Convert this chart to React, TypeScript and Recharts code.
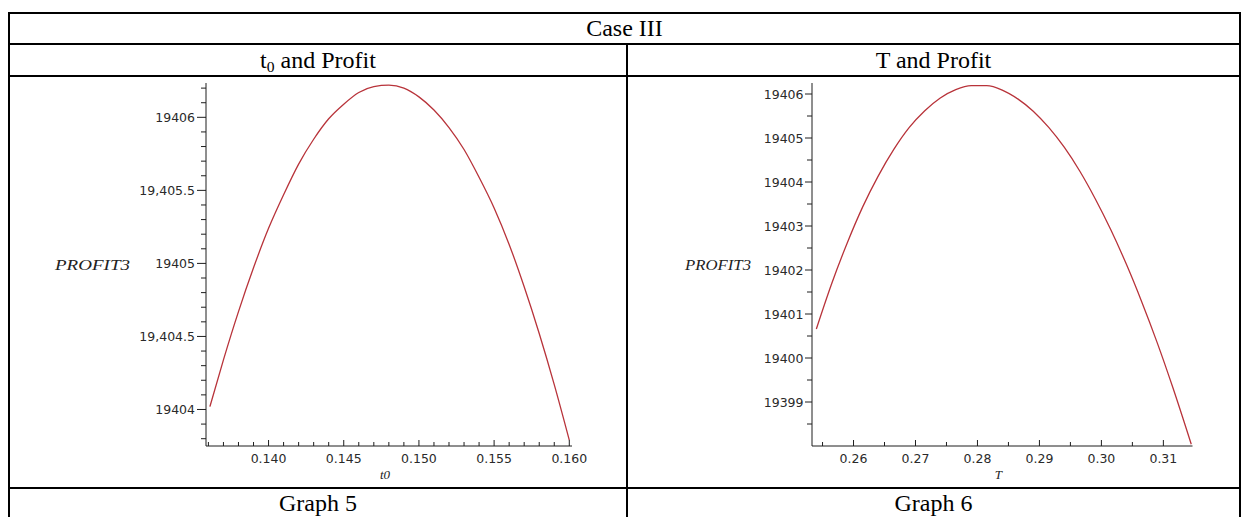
import React from 'react';
import { LineChart, Line, XAxis, YAxis, Label } from 'recharts';

// ---- Graph 5 : t0 and Profit ----
const t0Values = [0.1361, 0.137, 0.138, 0.139, 0.140, 0.141, 0.142, 0.143, 0.144, 0.145, 0.146, 0.147, 0.148, 0.149, 0.150, 0.151, 0.152, 0.153, 0.154, 0.155, 0.156, 0.157, 0.158, 0.159, 0.160];
const profitByT0 = [19404.02, 19404.34, 19404.67, 19404.97, 19405.24, 19405.47, 19405.68, 19405.85, 19405.99, 19406.09, 19406.17, 19406.21, 19406.22, 19406.20, 19406.14, 19406.05, 19405.93, 19405.78, 19405.59, 19405.38, 19405.13, 19404.84, 19404.52, 19404.17, 19403.79];
const leftXDomain = [0.13584, 0.16018];
const leftYDomain = [19403.75, 19406.235];
const leftXMajor = [0.140, 0.145, 0.150, 0.155, 0.160];
const leftXLabels = ['0.140', '0.145', '0.150', '0.155', '0.160'];
const leftXMinor = [0.136, 0.137, 0.138, 0.139, 0.141, 0.142, 0.143, 0.144, 0.146, 0.147, 0.148, 0.149, 0.151, 0.152, 0.153, 0.154, 0.156, 0.157, 0.158, 0.159];
const leftYMajor = [19404, 19404.5, 19405, 19405.5, 19406];
const leftYLabels = ['19404', '19,404.5', '19405', '19,405.5', '19406'];
const leftYMinor = [19403.8, 19403.9, 19404.1, 19404.2, 19404.3, 19404.4, 19404.6, 19404.7, 19404.8, 19404.9, 19405.1, 19405.2, 19405.3, 19405.4, 19405.6, 19405.7, 19405.8, 19405.9, 19406.1, 19406.2];

// ---- Graph 6 : T and Profit ----
const tValues = [0.2540, 0.2565, 0.2590, 0.2615, 0.2640, 0.2665, 0.2690, 0.2715, 0.2740, 0.2765, 0.2790, 0.2815, 0.2840, 0.2865, 0.2890, 0.2915, 0.2940, 0.2965, 0.2990, 0.3015, 0.3040, 0.3065, 0.3090, 0.3115, 0.3145];
const profitByT = [19400.66, 19401.70, 19402.62, 19403.44, 19404.14, 19404.74, 19405.24, 19405.62, 19405.91, 19406.10, 19406.19, 19406.19, 19406.09, 19405.89, 19405.61, 19405.24, 19404.79, 19404.25, 19403.62, 19402.92, 19402.14, 19401.28, 19400.35, 19399.34, 19398.04];
const rightXDomain = [0.2533, 0.3147];
const rightYDomain = [19398.0, 19406.25];
const rightXMajor = [0.26, 0.27, 0.28, 0.29, 0.30, 0.31];
const rightXLabels = ['0.26', '0.27', '0.28', '0.29', '0.30', '0.31'];
const rightXMinor = [0.255, 0.265, 0.275, 0.285, 0.295, 0.305];
const rightYMajor = [19399, 19400, 19401, 19402, 19403, 19404, 19405, 19406];
const rightYLabels = ['19399', '19400', '19401', '19402', '19403', '19404', '19405', '19406'];
const rightYMinor = [19398.5, 19399.5, 19400.5, 19401.5, 19402.5, 19403.5, 19404.5, 19405.5];

const headerTitle = 'Case III';
const yAxisTitle = 'PROFIT3';
const graphCaptions = ['Graph 5', 'Graph 6'];

const AXIS = '#1e1e1e';
const CURVE = '#b8333a';
const TICKFONT = '"DejaVu Sans", sans-serif';
const SERIF = '"Liberation Serif", "Times New Roman", serif';

const findIdx = (arr: number[], v: number) => arr.findIndex((m) => Math.abs(m - v) < 1e-9);

const makeXTick = (majors: number[], labels: string[]) => (props: any) => {
  const { x, y, payload } = props;
  const idx = findIdx(majors, payload.value);
  const major = idx >= 0;
  return (
    <g>
      <line x1={x} x2={x} y1={y} y2={y - (major ? 6 : 4)} stroke={AXIS} strokeWidth={1} />
      {major && (
        <text x={x} y={y + 17} textAnchor="middle" fontFamily={TICKFONT} fontSize={12.5} fill="#2a2a2a">
          {labels[idx]}
        </text>
      )}
    </g>
  );
};

const makeYTick = (majors: number[], labels: string[], majorLen: number, gap: number) => (props: any) => {
  const { x, y, payload } = props;
  const idx = findIdx(majors, payload.value);
  const major = idx >= 0;
  return (
    <g>
      <line x1={x - (major ? majorLen : 5)} x2={x} y1={y} y2={y} stroke={AXIS} strokeWidth={1} />
      {major && (
        <text x={x - gap} y={y + 4.5} textAnchor="end" fontFamily={TICKFONT} fontSize={12.5} fill="#2a2a2a">
          {labels[idx]}
        </text>
      )}
    </g>
  );
};

type PanelProps = {
  left: number;
  xs: number[];
  ys: number[];
  xDomain: number[];
  yDomain: number[];
  xMajor: number[];
  xLabels: string[];
  xMinor: number[];
  yMajor: number[];
  yLabels: string[];
  yMinor: number[];
  yAxisWidth: number;
  marginRight: number;
  majorLen: number;
  gap: number;
  xTitle: string;
  yTitleX: number;
  yTitleLen: number;
  yTitleSize: number;
};

function Panel(p: PanelProps) {
  const data = p.xs.map((x, i) => ({ x, v: p.ys[i] }));
  return (
    <div style={{ position: 'absolute', left: p.left, top: 70 }}>
      <LineChart width={565} height={430} data={data} margin={{ top: 13, right: p.marginRight, bottom: 14, left: 0 }}>
        <XAxis
          dataKey="x"
          type="number"
          domain={p.xDomain}
          allowDataOverflow
          ticks={[...p.xMajor, ...p.xMinor]}
          interval={0}
          tickSize={0}
          tickMargin={0}
          tickLine={false}
          axisLine={{ stroke: AXIS }}
          tick={makeXTick(p.xMajor, p.xLabels)}
          height={40}
        >
          <Label
            content={(lp: any) => {
              const vb = lp.viewBox || {};
              return (
                <text
                  x={vb.x + vb.width / 2 - 4}
                  y={vb.y + 33}
                  textAnchor="middle"
                  fontFamily={SERIF}
                  fontStyle="italic"
                  fontSize={13}
                  fill="#222"
                >
                  {p.xTitle}
                </text>
              );
            }}
          />
        </XAxis>
        <XAxis xAxisId="frameTop" orientation="top" type="number" domain={p.xDomain} allowDataOverflow height={0} tick={false} tickLine={false} axisLine={{ stroke: AXIS }} />
        <YAxis
          type="number"
          domain={p.yDomain}
          allowDataOverflow
          ticks={[...p.yMajor, ...p.yMinor]}
          interval={0}
          tickSize={0}
          tickMargin={0}
          tickLine={false}
          axisLine={{ stroke: AXIS }}
          tick={makeYTick(p.yMajor, p.yLabels, p.majorLen, p.gap)}
          width={p.yAxisWidth}
        >
          <Label
            content={(lp: any) => {
              const vb = lp.viewBox || {};
              return (
                <text
                  x={vb.x + p.yTitleX}
                  y={vb.y + vb.height / 2 + 5}
                  fontFamily={SERIF}
                  fontStyle="italic"
                  fontSize={p.yTitleSize}
                  textLength={p.yTitleLen}
                  lengthAdjust="spacingAndGlyphs"
                  fill="#222"
                >
                  {yAxisTitle}
                </text>
              );
            }}
          />
        </YAxis>
        <YAxis yAxisId="frameRight" orientation="right" type="number" domain={p.yDomain} allowDataOverflow width={0} tick={false} tickLine={false} axisLine={{ stroke: AXIS }} />
        <Line type="monotone" dataKey="v" stroke={CURVE} strokeWidth={1.3} dot={false} isAnimationActive={false} />
      </LineChart>
    </div>
  );
}

const hLine = (top: number, left: number, width: number) => (
  <div style={{ position: 'absolute', top, left, width, height: 2, background: '#000' }} />
);
const vLine = (left: number, top: number, height: number) => (
  <div style={{ position: 'absolute', top, left, width: 2, height, background: '#000' }} />
);

const textCell = (left: number, width: number, top: number, height: number, content: React.ReactNode) => (
  <div
    style={{
      position: 'absolute',
      left,
      width,
      top,
      height,
      lineHeight: `${height}px`,
      textAlign: 'center',
      fontFamily: SERIF,
      fontSize: 24,
      color: '#000',
      whiteSpace: 'nowrap',
    }}
  >
    {content}
  </div>
);

export default function App() {
  return (
    <div style={{ position: 'absolute', left: 0, top: 0, width: 1242, height: 517, background: '#fff', overflow: 'hidden' }}>
      {hLine(12, 8, 1233)}
      {hLine(43, 8, 1233)}
      {hLine(75, 8, 1233)}
      {hLine(487, 8, 1233)}
      {vLine(8, 12, 505)}
      {vLine(1239, 12, 505)}
      {vLine(626, 43, 474)}
      {textCell(10, 1229, 14, 29, headerTitle)}
      {textCell(10, 616, 45, 30, (
        <span>
          t<span style={{ fontSize: '65%', verticalAlign: '-0.25em' }}>0</span> and Profit
        </span>
      ))}
      {textCell(628, 611, 45, 30, 'T and Profit')}
      {textCell(10, 616, 489, 29, graphCaptions[0])}
      {textCell(628, 611, 489, 29, graphCaptions[1])}
      <Panel
        left={40}
        xs={t0Values}
        ys={profitByT0}
        xDomain={leftXDomain}
        yDomain={leftYDomain}
        xMajor={leftXMajor}
        xLabels={leftXLabels}
        xMinor={leftXMinor}
        yMajor={leftYMajor}
        yLabels={leftYLabels}
        yMinor={leftYMinor}
        yAxisWidth={166}
        marginRight={33}
        majorLen={9}
        gap={11}
        xTitle="t0"
        yTitleX={15}
        yTitleLen={75}
        yTitleSize={15}
      />
      <Panel
        left={660}
        xs={tValues}
        ys={profitByT}
        xDomain={rightXDomain}
        yDomain={rightYDomain}
        xMajor={rightXMajor}
        xLabels={rightXLabels}
        xMinor={rightXMinor}
        yMajor={rightYMajor}
        yLabels={rightYLabels}
        yMinor={rightYMinor}
        yAxisWidth={152}
        marginRight={32.5}
        majorLen={7}
        gap={8.5}
        xTitle="T"
        yTitleX={25}
        yTitleLen={66}
        yTitleSize={14}
      />
    </div>
  );
}
